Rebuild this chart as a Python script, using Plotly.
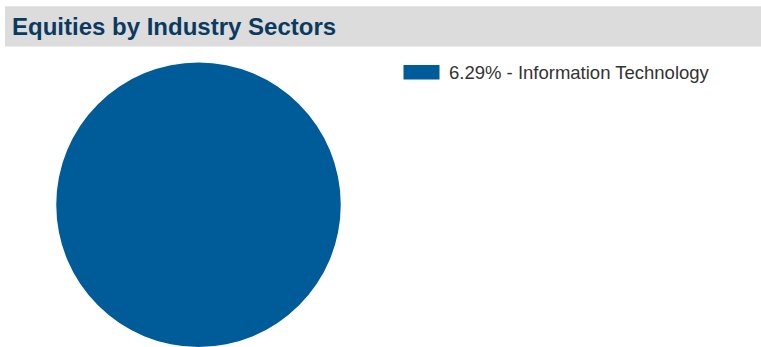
import plotly.graph_objects as go

W, H = 761, 347

# ----------------------------------------------------------------------
# Data
# ----------------------------------------------------------------------
sectors = ["Information Technology"]
weights = [6.29]
colors = ["#005B99"]
title_text = "Equities by Industry Sectors"

COLORS = {
    "title": "#0B3A5F",
    "title_bg": "#DCDCDC",
    "text": "#333333",
}


def px_x(v):
    return v / W


def px_y(v):
    return 1 - v / H


fig = go.Figure(go.Pie(
    labels=sectors,
    values=weights,
    marker=dict(colors=colors, line=dict(width=0)),
    textinfo="none",
    hoverinfo="label+value",
    sort=False,
    showlegend=False,
    domain=dict(x=[px_x(55.5), px_x(341.5)], y=[0, px_y(62.5)]),
))

# title bar
fig.add_shape(type="rect", xref="paper", yref="paper",
              x0=px_x(5), x1=1, y0=px_y(46.5), y1=px_y(6.3),
              fillcolor=COLORS["title_bg"], line=dict(width=0), layer="below")
fig.add_annotation(x=px_x(10), y=px_y(26.5), xref="paper", yref="paper",
                   xanchor="left", yanchor="middle", showarrow=False,
                   text=f"<b>{title_text}</b>",
                   font=dict(family="Liberation Sans, Arial", size=24,
                             color=COLORS["title"]))

# legend (drawn by hand to get the wide swatch)
for i, (name, w, c) in enumerate(zip(sectors, weights, colors)):
    top = 65 + i * 24
    fig.add_shape(type="rect", xref="paper", yref="paper",
                  x0=px_x(403.5), x1=px_x(439.5),
                  y0=px_y(top + 14.5), y1=px_y(top),
                  fillcolor=c, line=dict(width=0))
    fig.add_annotation(x=px_x(446.5), y=px_y(top + 7.5), xref="paper", yref="paper",
                       xanchor="left", yanchor="middle", showarrow=False,
                       text=f"{w:.2f}% - {name}",
                       font=dict(family="Liberation Sans, Arial", size=18.5,
                                 color=COLORS["text"]))

fig.update_layout(
    width=W, height=H,
    margin=dict(l=0, r=0, t=0, b=0),
    paper_bgcolor="white",
    plot_bgcolor="white",
)

fig.write_html("out.html", config={"displayModeBar": False},
               post_script="document.body.style.margin='0';")
